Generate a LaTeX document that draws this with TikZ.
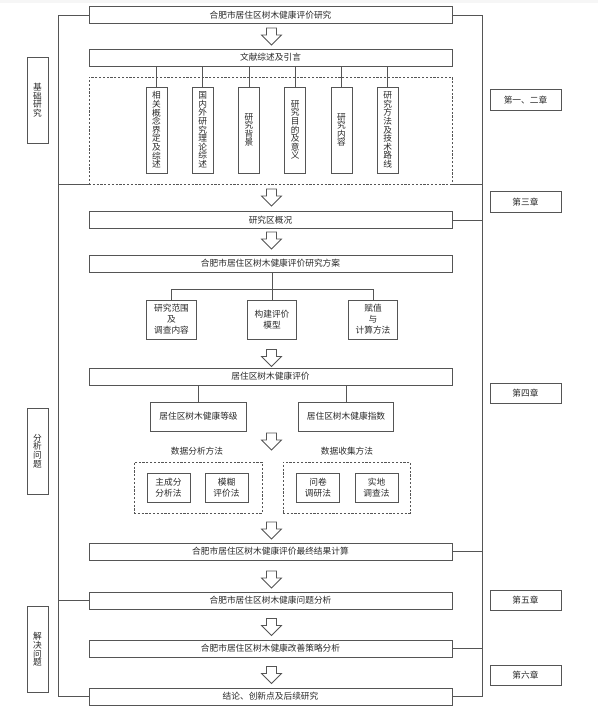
\documentclass[tikz,border=0pt]{standalone}
\usepackage{fontspec}
\newfontfamily\cjk{Noto Sans CJK SC}
\definecolor{linec}{HTML}{555555}
\definecolor{txtc}{HTML}{2A2A2A}
\begin{document}
\begin{tikzpicture}[x=1pt,y=-1pt,
  ln/.style={draw=linec, line width=0.75pt},
  txt/.style={font=\cjk\fontsize{8.7}{11}\selectfont, text=txtc, align=center, inner sep=0pt, outer sep=0pt},
  boxbase/.style={txt, ln, fill=white},
  mainbox/.style={boxbase, minimum width=363pt, minimum height=17pt},
  vbox/.style={boxbase, font=\cjk\fontsize{8.7}{8.6}\selectfont, minimum width=21pt, minimum height=86pt},
  sidebox/.style={boxbase, font=\cjk\fontsize{8.7}{8.6}\selectfont, minimum width=21pt, minimum height=86pt},
  chapbox/.style={boxbase, minimum width=71pt, minimum height=20.5pt},
  subbox/.style={boxbase, minimum width=49.5pt, minimum height=39pt},
  idxbox/.style={boxbase, minimum width=95.5pt, minimum height=29pt},
  smallbox/.style={boxbase, minimum width=43pt, minimum height=29pt},
  dashbox/.style={draw=linec, line width=0.75pt, dash pattern=on 2.2pt off 1.6pt, inner sep=0pt, outer sep=0pt},
  blockarrow/.style={ln, fill=white, line join=miter}
]
\useasboundingbox (0,0) rectangle (598,716);
\fill[gray!7] (0,0) rectangle (598,3);

% block arrows
\newcommand\downarrowat[1]{\draw[blockarrow] (266.5,#1) -- (276.5,#1) -- (276.5,#1+7) -- (281.5,#1+7) -- (271.5,#1+17) -- (261.5,#1+7) -- (266.5,#1+7) -- cycle;}

% main column
\node[mainbox] (b1) at (270.5,15) {合肥市居住区树木健康评价研究};
\node[mainbox] (b2) at (270.5,57.5) {文献综述及引言};
\node[dashbox, minimum width=363pt, minimum height=107pt] (dbx) at (270.5,130.5) {};
\node[mainbox] (b3) at (270.5,220) {研究区概况};
\node[mainbox] (b4) at (270.5,263.5) {合肥市居住区树木健康评价研究方案};
\node[mainbox] (b5) at (270.5,376.5) {居住区树木健康评价};
\node[mainbox] (b6) at (270.5,551.5) {合肥市居住区树木健康评价最终结果计算};
\node[mainbox] (b7) at (270.5,600.5) {合肥市居住区树木健康问题分析};
\node[mainbox] (b8) at (270.5,648.5) {合肥市居住区树木健康改善策略分析};
\node[mainbox] (b9) at (270.5,696.5) {结论、创新点及后续研究};

% vertical boxes
\node[vbox] (v1) at (156.5,130) {相\\关\\概\\念\\界\\定\\及\\综\\述};
\node[vbox] (v2) at (202.8,130) {国\\内\\外\\研\\究\\理\\论\\综\\述};
\node[vbox] (v3) at (249.0,130) {研\\究\\背\\景};
\node[vbox] (v4) at (295.3,130) {研\\究\\目\\的\\及\\意\\义};
\node[vbox] (v5) at (341.5,130) {研\\究\\内\\容};
\node[vbox] (v6) at (387.7,130) {研\\究\\方\\法\\及\\技\\术\\路\\线};
\foreach \v in {v1,v2,v3,v4,v5,v6}{\draw[ln] (\v.north |- b2.south) -- (\v.north);}

% scheme sub boxes
\node[subbox] (s1) at (171.5,319.5) {研究范围\\及\\调查内容};
\node[subbox] (s2) at (272,319.5) {构建评价\\模型};
\node[subbox] (s3) at (373,319.5) {赋值\\与\\计算方法};
\draw[ln] (b4.south -| s2.north) -- (s2.north);
\draw[ln] (s1.north) -- ++(0,-11) -| (s3.north);

% evaluation boxes
\node[idxbox] (e1) at (198.5,416.5) {居住区树木健康等级};
\node[idxbox] (e2) at (346,416.5) {居住区树木健康指数};
\draw[ln] (b5.south -| e1.north) -- (e1.north);
\draw[ln] (b5.south -| e2.north) -- (e2.north);

% method groups
\node[txt] (la) at (197,451) {数据分析方法};
\node[txt] (lc) at (347,451) {数据收集方法};
\node[dashbox, minimum width=128pt, minimum height=51pt] (d1) at (198,487.5) {};
\node[dashbox, minimum width=127pt, minimum height=51pt] (d2) at (346.5,487.5) {};
\node[smallbox] (m1) at (168.5,487.5) {主成分\\分析法};
\node[smallbox] (m2) at (226.5,487.5) {模糊\\评价法};
\node[smallbox] (m3) at (318,487.5) {问卷\\调研法};
\node[smallbox] (m4) at (376.5,487.5) {实地\\调查法};

% block arrows
\downarrowat{28}
\downarrowat{189}
\downarrowat{232}
\downarrowat{349.5}
\downarrowat{433}
\downarrowat{522}
\downarrowat{571}
\downarrowat{618.5}
\downarrowat{666.5}

% left bracket
\coordinate (lt) at (58,15);
\coordinate (lb) at (58,696.5);
\draw[ln] (b1.west) -- (lt) -- (lb) -- (b9.west);
\draw[ln] (dbx.south west) -- (dbx.south west -| lt);
\draw[ln] (b7.west) -- (b7.west -| lt);

% right bracket
\coordinate (rt) at (482,15);
\coordinate (rb) at (482,696.5);
\draw[ln] (b1.east) -- (rt) -- (rb) -- (b9.east);
\draw[ln] (dbx.south east) -- (dbx.south east -| rt);
\draw[ln] (b3.east) -- (b3.east -| rt);
\draw[ln] (b6.east) -- (b6.east -| rt);
\draw[ln] (b8.east) -- (b8.east -| rt);

% left labels
\node[sidebox] (p1) at (37.5,100) {基\\础\\研\\究};
\node[sidebox] (p2) at (37.5,451) {分\\析\\问\\题};
\node[sidebox] (p3) at (37.5,649.5) {解\\决\\问\\题};

% chapter boxes
\node[chapbox] (c1) at (525.5,100) {第一、二章};
\node[chapbox] (c2) at (525.5,202) {第三章};
\node[chapbox] (c3) at (525.5,393.5) {第四章};
\node[chapbox] (c4) at (525.5,600.5) {第五章};
\node[chapbox] (c5) at (525.5,675.5) {第六章};
\end{tikzpicture}
\end{document}
